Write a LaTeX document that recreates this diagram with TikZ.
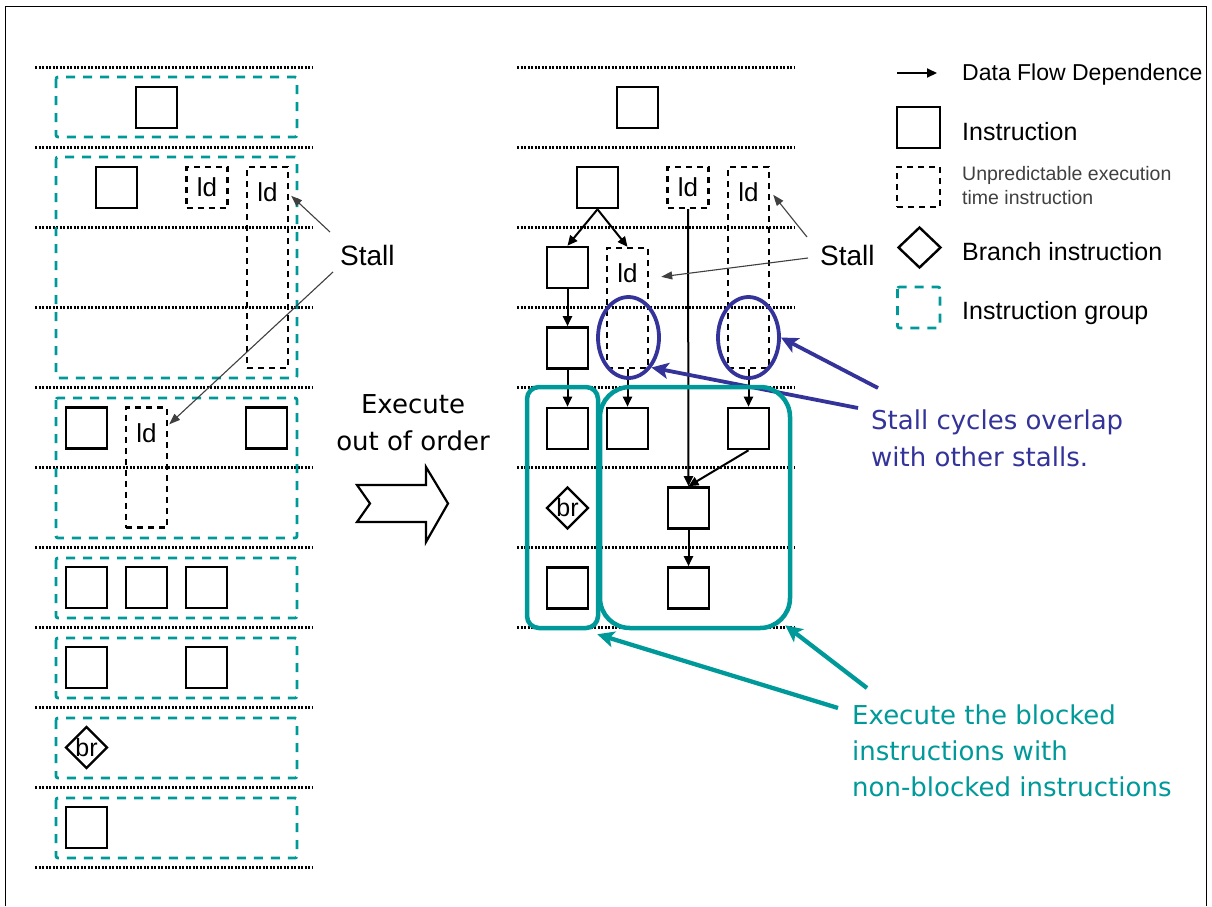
\documentclass[tikz,border=0pt]{standalone}
\usepackage{fontspec}
\setmainfont{Liberation Sans}
\newfontfamily\tah{DejaVu Sans}
\usetikzlibrary{shapes.geometric,arrows.meta,calc}
\definecolor{tealc}{RGB}{0,153,153}
\definecolor{bluec}{RGB}{51,51,153}
\tikzset{
 ins/.style={draw, line width=2.6pt, minimum width=41pt, minimum height=41pt, inner sep=0pt},
 ldbox/.style={draw, line width=2.4pt, dash pattern=on 6pt off 5pt, minimum width=41pt, minimum height=41pt, inner sep=0pt, font=\fontsize{26pt}{30pt}\selectfont},
 ldtxt/.style={inner sep=0pt, anchor=base, font=\fontsize{26pt}{30pt}\selectfont},
 brd/.style={draw, diamond, line width=2.4pt, minimum width=42pt, minimum height=42pt, inner sep=0pt},
 brtxt/.style={inner sep=0pt, font=\fontsize{25pt}{30pt}\selectfont},
 grp/.style={draw=tealc, line width=2.8pt, dash pattern=on 9pt off 8pt, rounded corners=2pt},
 dotline/.style={line width=2.3pt, dash pattern=on 2pt off 1.5pt, black},
 flow/.style={line width=2pt, -{Triangle[length=10pt,width=9pt]}},
 stl/.style={line width=1.1pt, black!75, -{Triangle[length=11pt,width=8pt]}},
 bluearr/.style={draw=bluec, line width=3.8pt, -{Stealth[length=17pt,width=16pt,inset=4pt]}},
 tealarr/.style={draw=tealc, line width=4.3pt, -{Stealth[length=17pt,width=16pt,inset=4pt]}},
 bigtxt/.style={inner sep=0pt, font=\tah\fontsize{26pt}{37pt}\selectfont},
 stalltxt/.style={inner sep=0pt, anchor=base west, font=\fontsize{28pt}{32pt}\selectfont},
 lg/.style={inner sep=0pt, anchor=base west, font=\fontsize{25pt}{30pt}\selectfont},
}
\begin{document}
\begin{tikzpicture}[x=1pt,y=-1pt]
\useasboundingbox[fill=white] (0,0) rectangle (1212,906);
% frame
\draw[line width=1.8pt] (5.5,906) -- (5.5,6.5) -- (1206.5,6.5) -- (1206.5,906);

% dotted cycle lines
\foreach \k in {0,...,10} \draw[dotline] (35,67.5+80*\k) -- (313,67.5+80*\k);
\foreach \k in {0,...,7} \draw[dotline] (517,67.5+80*\k) -- (795,67.5+80*\k);

% ---------- left: in-order schedule ----------
\draw[grp] (56,77) rectangle (297,137);
\draw[grp] (56,157) rectangle (297,378);
\draw[grp] (56,398) rectangle (297,538);
\draw[grp] (56,558) rectangle (297,618);
\draw[grp] (56,638) rectangle (297,698);
\draw[grp] (56,718) rectangle (297,778);
\draw[grp] (56,798) rectangle (297,858);

\node[ins] (L1) at (156.5,107.5) {};
\node[ins] (L2a) at (116.5,187.5) {};
\node[ldbox] (L2b) at (207,187.5) {ld};
\node[ldbox, minimum height=201pt] (L2c) at (267.5,267.5) {};
\node[ldtxt] at ($(L2c.north)+(0,36)$) {ld};
\node[ins] (L3a) at (86.5,428) {};
\node[ldbox, minimum height=120pt] (L3b) at (146.5,467.5) {};
\node[ldtxt] at ($(L3b.north)+(0,36)$) {ld};
\node[ins] (L3c) at (266.5,428) {};
\node[ins] (L4a) at (86.5,587.5) {};
\node[ins] (L4b) at (146.5,587.5) {};
\node[ins] (L4c) at (206.5,587.5) {};
\node[ins] (L5a) at (86.5,667.5) {};
\node[ins] (L5b) at (206.5,667.5) {};
\node[brd] (L6) at (86.5,747.5) {};
\node[brtxt] at (L6) {br};
\node[ins] (L7) at (86.5,827.5) {};

\node[stalltxt] (SL) at (340,265) {Stall};
\draw[stl] ($(SL.base west)+(-10,-33)$) -- ($(L2c.north east)+(2,30)$);
\draw[stl] ($(SL.base west)+(-7,7)$) -- ($(L3b.north east)+(1,18)$);

% ---------- middle: block arrow ----------
\node[bigtxt, align=center] (EX) at (413,423) {Execute\\out of order};
\draw[line width=2.2pt, fill=white, line join=miter] (357,485) -- (426,485) -- (426,467) -- (448,503.5) -- (426,542) -- (426,522) -- (357,522) -- (370,503.5) -- cycle;

% ---------- right: out-of-order schedule ----------
\node[ins] (R1) at (637.5,107.5) {};
\node[ins] (R2a) at (597.5,187.5) {};
\node[ldbox] (R2b) at (688,187.5) {ld};
\node[ldbox, minimum height=201pt] (R2c) at (748.5,267.5) {};
\node[ldtxt] at ($(R2c.north)+(0,36)$) {ld};
\node[ins] (R3a) at (567.5,267.5) {};
\node[ldbox, minimum height=120pt] (R3b) at (627.5,308) {};
\node[ldtxt] at ($(R3b.north)+(0,36)$) {ld};
\node[ins] (R4a) at (567.5,348) {};
\node[ins] (R5a) at (567.5,428.5) {};
\node[ins] (R5b) at (627.5,428.5) {};
\node[ins] (R5c) at (748.5,428.5) {};
\node[brd] (R6a) at (567.5,508) {};
\node[brtxt] at (R6a) {br};
\node[ins] (R6b) at (688.5,508) {};
\node[ins] (R7a) at (567.5,588) {};
\node[ins] (R7b) at (688.5,588) {};

\draw[flow] (R2a.south) -- (R3a.north);
\draw[flow] (R2a.south) -- (R3b.north);
\draw[flow] (R3a.south) -- (R4a.north);
\draw[flow] (R4a.south) -- (R5a.north);
\draw[flow] (R3b.south) -- (R5b.north);
\draw[flow] (R2b.south) -- (R6b.north);
\draw[flow] (R2c.south) -- (R5c.north);
\draw[flow] (R5c.south) -- (R6b.north);
\draw[flow] (R6b.south) -- (R7b.north);

\node[stalltxt] (SR) at (820,265) {Stall};
\draw[stl] ($(SR.base west)+(-13,-28)$) -- ($(R2c.north east)+(3,29)$);
\draw[stl] ($(SR.base west)+(-12,-7)$) -- ($(R3b.north east)+(12,30)$);

% stall overlap ellipses
\node[draw=bluec, line width=3.8pt, ellipse, minimum width=61pt, minimum height=81pt, inner sep=0pt] (E1) at (628.5,337.5) {};
\node[draw=bluec, line width=3.8pt, ellipse, minimum width=61pt, minimum height=81pt, inner sep=0pt] (E2) at (748.5,337.5) {};
\node[bigtxt, align=left, anchor=north west, text=bluec] (BT) at (871,410) {Stall cycles overlap\\with other stalls.};
\draw[bluearr] ($(BT.north west)+(7,-22)$) -- (E2.east);
\draw[bluearr] ($(BT.north west)+(-13,-2)$) -- (E1.south east);

% regrouped instructions
\node[draw=tealc, line width=4.5pt, rounded corners=12pt, minimum width=71pt, minimum height=241pt, inner sep=0pt] (TL) at (562.5,507.5) {};
\node[draw=tealc, line width=4.5pt, rounded corners=30pt, minimum width=190pt, minimum height=241pt, inner sep=0pt] (TR) at (695,507.5) {};
\node[bigtxt, font=\tah\fontsize{26pt}{36pt}\selectfont, align=left, anchor=north west, text=tealc] (TT) at (852,705) {Execute the blocked\\instructions with\\non-blocked instructions};
\draw[tealarr] ($(TT.north west)+(-14,3)$) -- ($(TL.south east)+(-3,4)$);
\draw[tealarr] ($(TT.north west)+(15,-17)$) -- ($(TR.south east)+(-7,-5)$);

% ---------- legend ----------
\coordinate (la) at (897,73);
\coordinate (lb) at (937,73);
\draw[flow] (la) -- (lb);
\node[lg, font=\fontsize{23pt}{28pt}\selectfont] (T0) at (962,80) {Data Flow Dependence};
\node[ins, minimum width=43pt] (G1) at (918.5,127.5) {};
\node[lg] (T1) at (962,140) {Instruction};
\node[ldbox, minimum width=43pt, minimum height=40pt] (G2) at (918.5,187) {};
\node[inner sep=0pt, anchor=north west, align=left, text=black!75, font=\fontsize{19.5pt}{24pt}\selectfont] (T2) at (962,166.5) {Unpredictable execution\\time instruction};
\node[brd, minimum width=43pt, minimum height=41pt] (G3) at (919.5,247.5) {};
\node[lg] (T3) at (962,260) {Branch instruction};
\draw[grp] (897.5,287) rectangle (940,328);
\node[lg] (T4) at (962,319) {Instruction group};
\end{tikzpicture}
\end{document}
